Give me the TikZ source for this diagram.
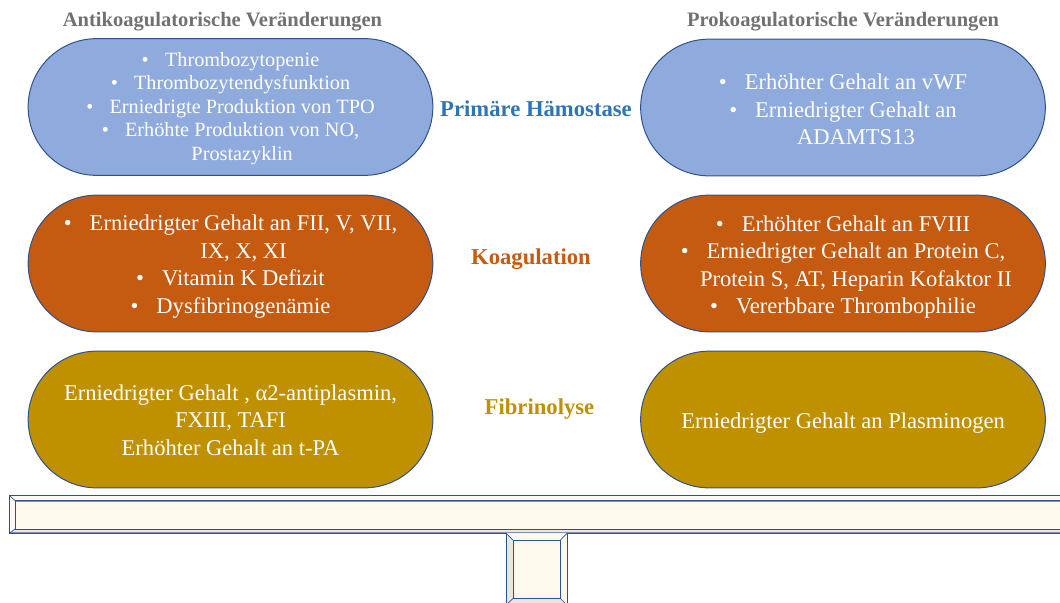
\documentclass[tikz,border=0pt]{standalone}
\usepackage{fontspec}
\setmainfont{Liberation Serif}
\definecolor{pblue}{HTML}{8FAADC}
\definecolor{porange}{HTML}{C55A11}
\definecolor{pgold}{HTML}{BF9000}
\definecolor{pedge}{HTML}{2F528F}
\definecolor{lblue}{HTML}{2E75B6}
\definecolor{hgray}{HTML}{727070}
\definecolor{cream}{HTML}{FFF8EC}
\definecolor{bevlight}{HTML}{FAFAF8}
\definecolor{bevdark}{HTML}{E9E6DD}
\definecolor{shadowblue}{HTML}{7F93B6}
\newcommand{\bul}{\textbullet\hspace{0.8em}}
\newcommand{\bulph}{\hphantom{\textbullet\hspace{0.8em}}}
\begin{document}
\begin{tikzpicture}[x=0.75pt,y=-0.75pt,
  pill/.style={draw=pedge, line width=0.75pt, rectangle, rounded corners=51.2pt,
    minimum width=303.5pt, minimum height=102.5pt, inner sep=0pt},
  pilltext/.style={text=white, align=center, inner sep=0pt},
  small/.style={font=\fontsize{15.2}{17.7}\selectfont},
  big/.style={font=\fontsize{16.9}{20.6}\selectfont},
  header/.style={font=\fontsize{15.4}{18}\selectfont\bfseries, text=hgray},
  rowlabel/.style={font=\fontsize{17}{19}\selectfont\bfseries}]
\useasboundingbox (0,0) rectangle (1060,603);

% headers
\node[header] (hl) at (222.5,22) {Antikoagulatorische Veränderungen};
\node[header] (hr) at (843,22) {Prokoagulatorische Veränderungen};

% pills
\node[pill, fill=pblue] (lb) at (230.5,107) {};
\node[pill, fill=pblue] (rb) at (843,107.5) {};
\node[pill, fill=porange] (lo) at (230.5,263.5) {};
\node[pill, fill=porange] (ro) at (843,263.5) {};
\node[pill, fill=pgold] (lg) at (230.5,419.5) {};
\node[pill, fill=pgold] (rg) at (843,419.5) {};

% pill texts
\node[pilltext, small] (lbt) at ([yshift=-1.1pt]lb.center) {%
\bul Thrombozytopenie\\
\bul Thrombozytendysfunktion\\
\bul Erniedrigte Produktion von TPO\\
\bul Erhöhte Produktion von NO,\\
\bulph Prostazyklin};
\node[pilltext, big] (rbt) at ([yshift=-1.5pt]rb.center) {%
\bul Erhöhter Gehalt an vWF\\
\bul Erniedrigter Gehalt an\\
\bulph ADAMTS13};
\node[pilltext, big] (lot) at ([yshift=-2.4pt]lo.center) {%
\bul Erniedrigter Gehalt an FII, V, VII,\\
\bulph IX, X, XI\\
\bul Vitamin K Defizit\\
\bul Dysfibrinogenämie};
\node[pilltext, big] (rot) at ([yshift=-2.6pt]ro.center) {%
\bul Erhöhter Gehalt an FVIII\\
\bul Erniedrigter Gehalt an Protein C,\\
\bulph Protein S, AT, Heparin Kofaktor II\\
\bul Vererbbare Thrombophilie};
\node[pilltext, big] (lgt) at ([yshift=-0.5pt]lg.center) {%
Erniedrigter Gehalt , α2-antiplasmin,\\
FXIII, TAFI\\
Erhöhter Gehalt an t-PA};
\node[pilltext, big] (rgt) at ([yshift=-3pt]rg.center) {Erniedrigter Gehalt an Plasminogen};

% row labels
\node[rowlabel, text=lblue] (l1) at (536,109) {Primäre Hämostase};
\node[rowlabel, text=porange] (l2) at (531,259) {Koagulation};
\node[rowlabel, text=pgold] (l3) at (539.5,409) {Fibrinolyse};

% beam (bevel shape)
\fill[bevlight] (9.5,495.7) rectangle (1070,533.3);
\fill[bevdark] (9.5,533.3) -- (15,529) -- (1070,529) -- (1070,533.3) -- cycle;
\fill[cream] (15,500.5) rectangle (1070,529);
\draw[shadowblue, line width=1.2pt] (15,501.2) -- (1070,501.2);
\draw[shadowblue, line width=1.2pt] (9.5,532.6) -- (1070,532.6);
\draw[pedge, line width=0.6pt] (1070,495.7) -- (9.5,495.7) -- (9.5,533.3) -- (1070,533.3);
\draw[pedge, line width=0.6pt] (1070,500.5) -- (15,500.5) -- (15,529) -- (1070,529);
\draw[pedge, line width=0.5pt] (9.5,495.7) -- (15,500.5) (9.5,533.3) -- (15,529);

% pillar (bevel shape)
\fill[bevdark] (506,533.3) rectangle (567,610);
\fill[cream] (506,533.3) -- (513.5,540.5) -- (560,540.5) -- (567,533.3) -- cycle;
\fill[cream] (567,533.3) -- (560,540.5) -- (560,598) -- (567,606) -- cycle;
\fill[cream] (513.5,540.5) rectangle (560,598);
\draw[pedge, line width=0.6pt] (506,533.3) -- (506,610) (567,533.3) -- (567,610);
\draw[pedge, line width=0.6pt] (513.5,540.5) rectangle (560,598);
\draw[pedge, line width=0.5pt] (506,533.3) -- (513.5,540.5) (567,533.3) -- (560,540.5)
  (513.5,598) -- (506,605) (560,598) -- (567,605);
\end{tikzpicture}
\end{document}
